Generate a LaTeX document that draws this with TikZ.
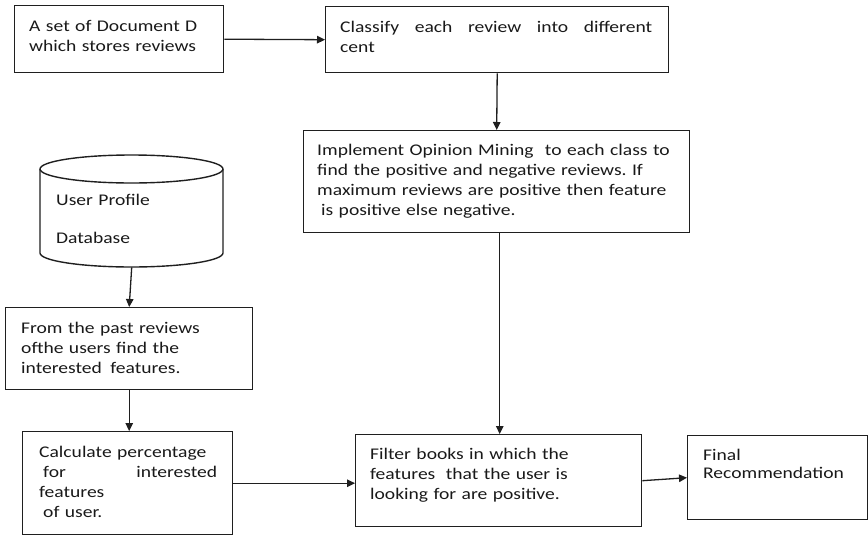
\documentclass[tikz,border=0pt]{standalone}
\usepackage{fontspec}
\setmainfont{Carlito}[FakeStretch=1.2]
\usetikzlibrary{arrows.meta}
\frenchspacing
\begin{document}
\begin{tikzpicture}[x=1pt,y=-1pt]
\tikzset{
  box/.style={draw=black!88, line width=1.4pt, rectangle, inner sep=0pt, anchor=north west},
  txt/.style={inner sep=0pt, anchor=base west, align=left, text=black!90,
              font=\fontsize{16.3}{20}\selectfont},
  arr/.style={draw=black!88, line width=1.3pt, -{Triangle[length=8pt,width=7.5pt]}}
}
\useasboundingbox (0,0) rectangle (868,536);

% process boxes
\node[box, minimum width=209pt, minimum height=67pt]  (a) at (14,5)   {};
\node[box, minimum width=343pt, minimum height=66pt]  (b) at (325,6)  {};
\node[box, minimum width=386pt, minimum height=102pt] (c) at (303,130) {};
\node[box, minimum width=247pt, minimum height=82pt]  (d) at (5,307)  {};
\node[box, minimum width=210pt, minimum height=103pt] (e) at (22,431) {};
\node[box, minimum width=286pt, minimum height=92pt]  (f) at (355,434) {};
\node[box, minimum width=180pt, minimum height=84pt]  (g) at (687,435) {};

% database cylinder
\node[inner sep=0pt, minimum width=183pt, minimum height=112pt, anchor=north west] (db) at (40,155) {};
\draw[draw=black!88, line width=1.4pt] (40,169) -- (40,253)
  arc[start angle=180, end angle=0, x radius=91.5, y radius=14] -- (223,169);
\draw[draw=black!88, line width=1.4pt] (131.5,169) ellipse[x radius=91.5, y radius=14];

% texts
\node[txt, text width=200pt] (at) at (29,31) {A set of Document D\\which stores reviews};
\node[txt, text width=320pt] (bt) at (340,32) {\makebox[312pt][l]{Classify\hfill each\hfill review\hfill into\hfill different}\\cent};
\node[txt, text width=375pt] (ct) at (317,155) {Implement Opinion Mining\hspace{6pt} to each class to\\find the positive and negative reviews. If\\maximum reviews are positive then feature\\\hspace*{4pt}is positive else negative.};
\node[txt, text width=160pt] (dbt) at (56,205) {User Profile\\[18pt]Database};
\node[txt, text width=230pt] (dt) at (21,333) {From the past reviews\\ofthe users find the\\interested\hspace{3pt} features.};
\node[txt, text width=178pt] (et) at (39,457) {Calculate percentage\\\hspace*{4pt}for\hfill interested\\features\\\hspace*{4pt}of user.};
\node[txt, text width=265pt] (ft) at (370,459) {Filter books in which the\\features\hspace{5pt} that the user is\\looking for are positive.};
\node[txt, text width=160pt] (gt) at (703,460) {Final\\[-2pt]Recommendation};

% connectors
\draw[arr] (a.east) -- (b.west);
\draw[arr] (b.south) -- (c.north);
\draw[arr] ([xshift=3pt]c.south) -- ([xshift=3pt]c.south |- f.north);
\draw[arr] (db.south) -- (d.north);
\draw[arr] (d.south) -- (d.south |- e.north);
\draw[arr] (e.east) -- (e.east -| f.west);
\draw[arr] (f.east) -- (g.west);
\end{tikzpicture}
\end{document}
